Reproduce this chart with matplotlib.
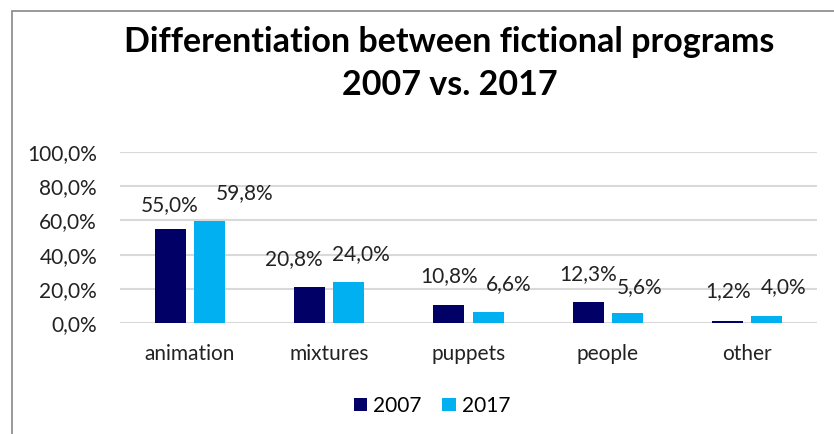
import numpy as np
import matplotlib.pyplot as plt
from matplotlib.patches import Rectangle

plt.rcParams['font.family'] = ['Lato', 'DejaVu Sans']

categories = ['animation', 'mixtures', 'puppets', 'people', 'other']
values_2007 = [55.0, 20.8, 10.8, 12.3, 1.2]
values_2017 = [59.8, 24.0, 6.6, 5.6, 4.0]
series_names = ['2007', '2017']
colors = ['#000066', '#00B0F0']
yticks = [0, 20, 40, 60, 80, 100]

# manual nudges of the data labels (pixels), as in the original chart
nudge_2007 = [(0, 10), (-16, 13), (0, 13), (0, 13), (0, 14)]
nudge_2017 = [(35, 13), (12, 13), (21, 13), (12, 12), (17, 14)]

W, H = 834, 434
fig = plt.figure(figsize=(W / 100, H / 100), dpi=100)

# chart frame (cropped on the right and bottom)
fig.patches.append(Rectangle((12 / W, -0.1), 1.2, 1 - 11 / H + 0.1,
                             transform=fig.transFigure, fill=False,
                             edgecolor='#888888', linewidth=1.2))

ax = fig.add_axes([120 / W, 1 - 323 / H, (817 - 120) / W, (323 - 152) / H])

x = np.arange(len(categories))
bw = 0.222
off = 0.141
b1 = ax.bar(x - off, values_2007, bw, color=colors[0], label=series_names[0], zorder=3)
b2 = ax.bar(x + off, values_2017, bw, color=colors[1], label=series_names[1], zorder=3)

for bars, vals, nud in ((b1, values_2007, nudge_2007), (b2, values_2017, nudge_2017)):
    for rect, v, (dx, dy) in zip(bars, vals, nud):
        ax.annotate(('%.1f%%' % v).replace('.', ','),
                    (rect.get_x() + rect.get_width() / 2, v),
                    xytext=(dx * 0.72, dy), textcoords='offset points',
                    ha='center', va='bottom', fontsize=15, color='#222222')

ax.set_xlim(-0.5, len(categories) - 0.5)
ax.set_ylim(0, 100)
ax.set_yticks(yticks)
ax.set_yticklabels([('%.1f%%' % t).replace('.', ',') for t in yticks])
ax.set_xticks(x)
ax.set_xticklabels(categories)
ax.tick_params(axis='both', length=0, labelsize=15, colors='#222222')
ax.tick_params(axis='y', pad=16.5)
ax.tick_params(axis='x', pad=15)
ax.grid(axis='y', color='#D9D9D9', linewidth=1.5, zorder=0)
for s in ax.spines.values():
    s.set_visible(False)

fig.text(0.539, 1 - 63.5 / H, 'Differentiation between fictional programs\n2007 vs. 2017',
         ha='center', va='center', fontsize=24.5, fontweight='bold',
         linespacing=1.45)

fig.legend(handles=[b1, b2], labels=series_names, loc='center',
           bbox_to_anchor=(432 / W, 1 - 406 / H), ncol=2, frameon=False,
           fontsize=15, handlelength=0.63, handleheight=0.63, handletextpad=0.3,
           columnspacing=1.0)

fig.savefig('out.png', dpi=100)
